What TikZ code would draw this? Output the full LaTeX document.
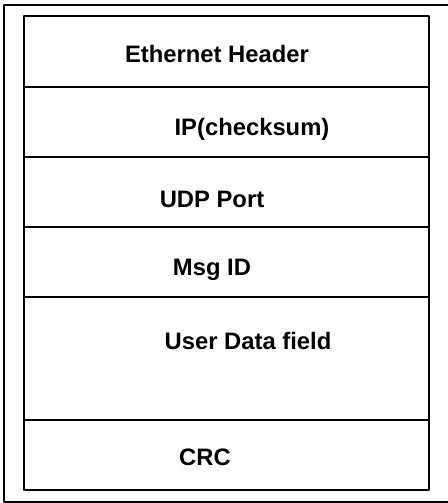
\documentclass[tikz,border=0pt]{standalone}
\usepackage{fontspec}
\setmainfont{Liberation Sans}
\usepackage{tikz}

\begin{document}
\begin{tikzpicture}[x=1bp,y=-1bp,line join=bevel,
  field/.style={font=\bfseries\fontsize{23.8bp}{28bp}\selectfont,inner sep=0pt},
  rowline/.style={line width=2.6bp}]
\useasboundingbox (0,0) rectangle (448,503);
  % Frame
  \draw [line width=1.6bp] (448,5) -- (4,5) -- (4,502) -- (448,502);
  % Box
  \coordinate (tl) at (24,16);
  \coordinate (br) at (429,490);
  \draw [rowline] (tl) rectangle (br);
  \foreach \y in {87,157,227,297,420}
    \draw [rowline] (24,\y) -- (429,\y);
  % Fields
  \node [field] (eth) at (217,54) {Ethernet Header};
  \node [field] (ip) at (252,129) {IP(checksum)};
  \node [field] (udp) at (212,199) {UDP Port};
  \node [field] (msg) at (212,270) {Msg ID};
  \node [field] (user) at (248,341) {User Data field};
  \node [field] (crc) at (205,457) {CRC};
%
\end{tikzpicture}
\end{document}
